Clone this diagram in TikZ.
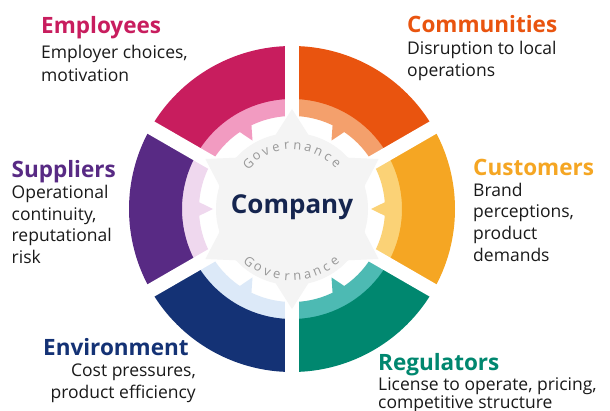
\documentclass[tikz,border=0pt]{standalone}
\usepackage{fontspec}
\setmainfont{Open Sans}
\definecolor{empD}{HTML}{C81D5E}
\definecolor{empL}{HTML}{F29BC1}
\definecolor{comD}{HTML}{E9540F}
\definecolor{comL}{HTML}{F4A06C}
\definecolor{cusD}{HTML}{F5A623}
\definecolor{cusL}{HTML}{FBD276}
\definecolor{regD}{HTML}{00876F}
\definecolor{regL}{HTML}{4DBAB3}
\definecolor{envD}{HTML}{143275}
\definecolor{envL}{HTML}{DCE9F8}
\definecolor{supD}{HTML}{582A84}
\definecolor{supL}{HTML}{EFD8EE}
\definecolor{hub}{HTML}{F4F4F4}
\definecolor{hubtext}{HTML}{15254F}
\definecolor{govtext}{HTML}{999999}
\definecolor{bodytext}{HTML}{1A1A1A}
\tikzset{
  title/.style={anchor=base west, inner sep=0pt, font=\fontsize{22.5}{26}\selectfont\bfseries},
  body/.style={anchor=base west, inner sep=0pt, text=bodytext, font=\fontsize{17.5}{21}\selectfont},
  bodyr/.style={body, anchor=base east},
  govletter/.style={inner sep=0pt, text=govtext, font=\fontsize{13}{15}\selectfont},
}
\begin{document}
\begin{tikzpicture}[x=1pt,y=1pt]
\useasboundingbox (0,0) rectangle (610,410);
\fill[white] (0,0) rectangle (610,410);

% the wheel, centred on the hub
\begin{scope}[shift={(292,201)}]
  % stakeholder segments: start angle / dark colour / light colour
  \foreach \a/\dk/\lt in {90/empD/empL, 30/comD/comL, -30/cusD/cusL,
                          -90/regD/regL, 210/envD/envL, 150/supD/supL}{
    \fill[\lt] (\a:93) arc[start angle=\a, end angle=\a+60, radius=93]
      -- (\a+60:110.5) arc[start angle=\a+60, end angle=\a, radius=110.5] -- cycle;
    \fill[\lt] (\a+25.5:94.5) -- (\a+30:79) -- (\a+34.5:94.5) -- cycle;
    \fill[\dk] (\a:110) arc[start angle=\a, end angle=\a+60, radius=110]
      -- (\a+60:163) arc[start angle=\a+60, end angle=\a, radius=163] -- cycle;
  }
  % white gaps between the segments
  \foreach \g in {90,30,-30,-90,-150,150}
    \draw[white, line width=14pt] (\g:60) -- (\g:170);
  % central hub with its six points
  \fill[hub] (0,0) circle[radius=76];
  \foreach \g in {90,30,-30,-90,-150,150}
    \fill[hub] (\g:100) -- (\g+14:74) -- (\g-14:74) -- cycle;
  \node[font=\fontsize{26}{30}\selectfont\bfseries, text=hubtext] (company) at (0,2) {Company};
  % "Governance" set letter by letter along the top and bottom arcs
  \foreach \ch [count=\i from 0] in {G,o,v,e,r,n,a,n,c,e}{
    \node[govletter, rotate=134-\i*9.8-90] (govtop\i) at ({134-\i*9.8}:63) {\ch};
    \node[govletter, rotate=231+\i*8.7+90] (govbot\i) at ({231+\i*8.7}:68) {\ch};
  }
\end{scope}

% labels
\node[title, text=empD] (emp) at (41,376) {Employees};
\node[body] (emp1) at (41,351) {Employer choices,};
\node[body] (emp2) at (41,328.5) {motivation};

\node[title, text=comD] (com) at (407,377) {Communities};
\node[body] (com1) at (407,355) {Disruption to local};
\node[body] (com2) at (407,333.5) {operations};

\node[title, text=cusD] (cus) at (473,234) {Customers};
\node[body] (cus1) at (473,213.5) {Brand};
\node[body] (cus2) at (473,192) {perceptions,};
\node[body] (cus3) at (473,170.5) {product};
\node[body] (cus4) at (473,149) {demands};

\node[title, text=supD] (sup) at (11.5,232) {Suppliers};
\node[body] (sup1) at (11.5,211) {Operational};
\node[body] (sup2) at (11.5,189.5) {continuity,};
\node[body] (sup3) at (11.5,168) {reputational};
\node[body] (sup4) at (11.5,146.5) {risk};

\node[title, text=envD] (env) at (43,55) {Environment};
\node[bodyr] (env1) at (196,33.5) {Cost pressures,};
\node[bodyr] (env2) at (196,12) {product efficiency};

\node[title, text=regD] (reg) at (378,40) {Regulators};
\node[body] (reg1) at (378,20) {License to operate, pricing,};
\node[body] (reg2) at (378,1.5) {competitive structure};
\end{tikzpicture}
\end{document}
